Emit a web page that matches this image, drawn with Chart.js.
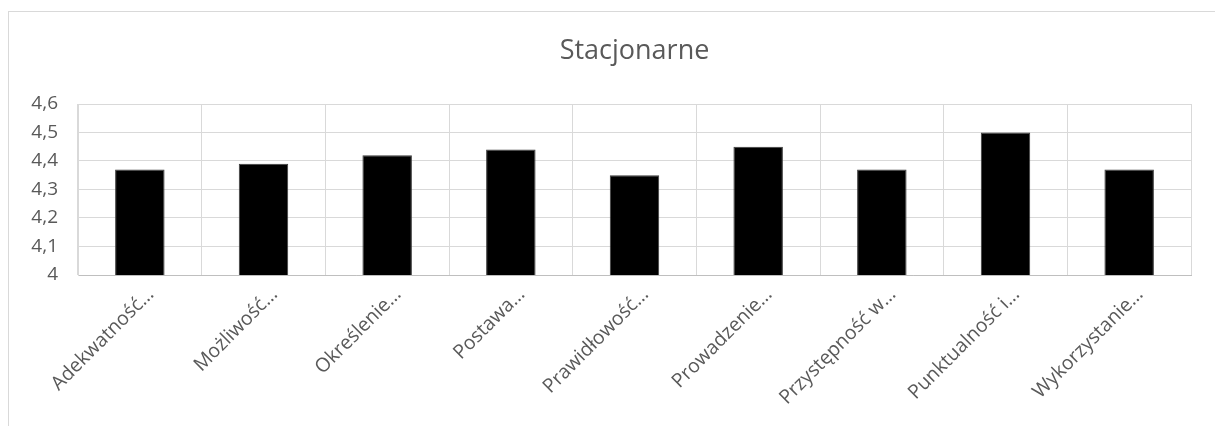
<!DOCTYPE html>
<html>
<head>
<meta charset="utf-8">
<script src="https://cdn.jsdelivr.net/npm/chart.js@4/dist/chart.umd.min.js"></script>
<style>
  html, body { margin: 0; padding: 0; background: #fff; overflow: hidden; }
  #frame {
    position: absolute; left: 8px; top: 11px;
    width: 1207px; height: 415px;
    border-top: 1px solid #d9d9d9; border-left: 1px solid #d9d9d9;
  }
  #canvas { display: block; }
</style>
</head>
<body>
<div id="frame"><canvas id="canvas" width="1206" height="414"></canvas></div>
<script>
const TITLE = "Stacjonarne";
const CATEGORIES = [
    "Adekwatność…",
    "Możliwość…",
    "Określenie…",
    "Postawa…",
    "Prawidłowość…",
    "Prowadzenie…",
    "Przystępność w…",
    "Punktualność i…",
    "Wykorzystanie…"
];
const VALUES = [4.37, 4.39, 4.42, 4.44, 4.35, 4.45, 4.37, 4.50, 4.37];
const Y_TICKS = [4, 4.1, 4.2, 4.3, 4.4, 4.5, 4.6];

const TEXT_COLOR = '#595959';
const GRID_COLOR = '#d9d9d9';

// title centred over the plot area (like Excel does), not over the canvas
const plotTitle = {
    id: 'plotTitle',
    afterDraw(chart) {
        const ctx = chart.ctx;
        const area = chart.chartArea;
        ctx.save();
        ctx.font = '27px "Open Sans"';
        ctx.fillStyle = TEXT_COLOR;
        ctx.textAlign = 'center';
        ctx.textBaseline = 'middle';
        ctx.fillText(TITLE, (area.left + area.right) / 2, 39);
        ctx.restore();
    }
};

var ctx = document.getElementById('canvas').getContext('2d');
var barChart = new Chart(ctx, {
    type: 'bar',
    data: {
        labels: CATEGORIES,
        datasets: [{
            label: TITLE,
            data: VALUES,
            backgroundColor: '#000000',
            borderColor: '#3a3a3a',
            borderWidth: 1,
            barPercentage: 0.4,
            categoryPercentage: 1
        }]
    },
    options: {
        responsive: false,
        animation: false,
        layout: { padding: { top: 92, right: 24, bottom: 0, left: 0 } },
        plugins: {
            legend: { display: false },
            title: { display: false },
            tooltip: { enabled: false }
        },
        scales: {
            x: {
                afterFit(scale) { scale.height = 151; },
                grid: { color: GRID_COLOR, drawTicks: false, offset: true },
                border: { color: '#bfbfbf' },
                ticks: {
                    color: TEXT_COLOR,
                    font: { family: '"Open Sans"', size: 19.5 },
                    minRotation: 45,
                    maxRotation: 45,
                    autoSkip: false,
                    padding: 8,
                    labelOffset: 11
                }
            },
            y: {
                min: 4,
                max: 4.6,
                afterFit(scale) { scale.width = 69; },
                afterBuildTicks(scale) {
                    scale.ticks = Y_TICKS.map(v => ({ value: v }));
                },
                grid: { color: GRID_COLOR, drawTicks: false },
                border: { color: GRID_COLOR },
                ticks: {
                    color: TEXT_COLOR,
                    font: { family: '"Open Sans"', size: 19 },
                    padding: 20,
                    callback: function (value) {
                        return String(Number(value.toFixed(1))).replace('.', ',');
                    }
                }
            }
        }
    },
    plugins: [plotTitle]
});
</script>
</body>
</html>
